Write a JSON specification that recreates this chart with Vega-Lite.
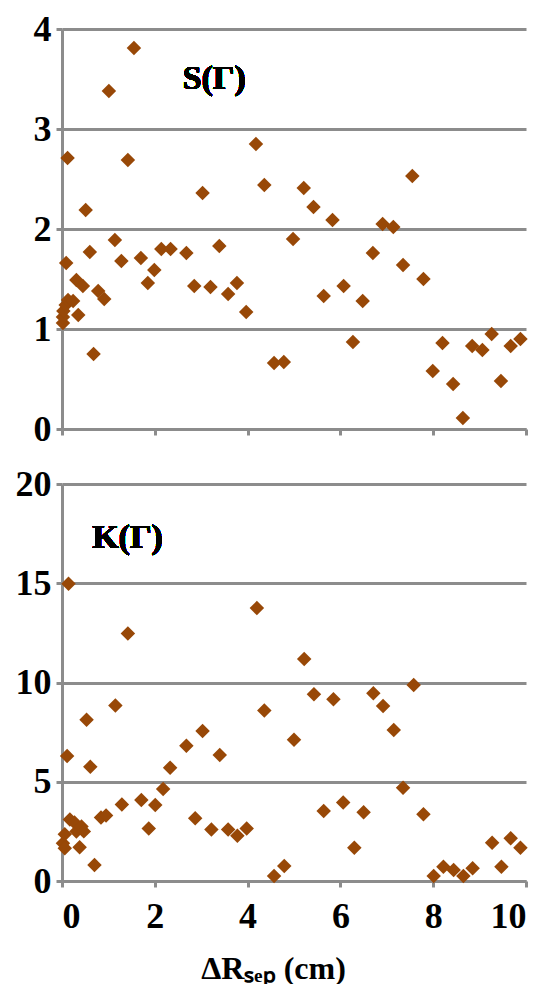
{
  "$schema": "https://vega.github.io/schema/vega-lite/v6.json",
  "padding": {"left": 15, "top": 11, "right": 5, "bottom": 0},
  "spacing": 19,
  "background": "white",
  "config": {
    "view": {"stroke": null},
    "axis": {
      "labelFont": "Liberation Serif",
      "labelFontWeight": "bold",
      "labelFontSize": 36,
      "labelColor": "black",
      "titleFont": "Liberation Serif",
      "titleFontWeight": "bold",
      "titleFontSize": 32,
      "titleColor": "black",
      "domainColor": "#8c8c8c",
      "domainWidth": 3,
      "tickColor": "#8c8c8c",
      "tickWidth": 3,
      "tickSize": 6,
      "gridColor": "#8c8c8c",
      "gridWidth": 3,
      "gridOpacity": 1,
      "labelPadding": 5,
      "format": "d"
    }
  },
  "vconcat": [
    {
      "width": 464,
      "height": 400,
      "data": {"values": [
        {"x":0.02,"S":1.06},{"x":0.02,"S":1.12},{"x":0.03,"S":1.18},{"x":0.08,"S":1.24},{"x":0.13,"S":1.29},{"x":0.24,"S":1.28},{"x":0.35,"S":1.14},{"x":0.09,"S":1.66},{"x":0.12,"S":2.71},{"x":0.31,"S":1.49},{"x":0.45,"S":1.43},{"x":0.51,"S":2.19},{"x":0.60,"S":1.77},{"x":0.68,"S":0.75},{"x":0.78,"S":1.38},{"x":0.91,"S":1.30},{"x":1.01,"S":3.38},{"x":1.14,"S":1.89},{"x":1.28,"S":1.68},{"x":1.42,"S":2.69},{"x":1.55,"S":3.81},{"x":1.70,"S":1.71},{"x":1.85,"S":1.46},{"x":1.99,"S":1.59},{"x":2.14,"S":1.80},{"x":2.34,"S":1.80},{"x":2.68,"S":1.76},{"x":2.85,"S":1.43},{"x":3.03,"S":2.36},{"x":3.20,"S":1.42},{"x":3.39,"S":1.83},{"x":3.58,"S":1.35},{"x":3.77,"S":1.46},{"x":3.97,"S":1.17},{"x":4.18,"S":2.85},{"x":4.36,"S":2.44},{"x":4.57,"S":0.66},{"x":4.78,"S":0.67},{"x":4.98,"S":1.90},{"x":5.21,"S":2.41},{"x":5.42,"S":2.22},{"x":5.64,"S":1.33},{"x":5.83,"S":2.09},{"x":6.07,"S":1.43},{"x":6.27,"S":0.87},{"x":6.48,"S":1.28},{"x":6.70,"S":1.76},{"x":6.91,"S":2.05},{"x":7.14,"S":2.02},{"x":7.35,"S":1.64},{"x":7.55,"S":2.53},{"x":7.79,"S":1.50},{"x":7.99,"S":0.58},{"x":8.20,"S":0.86},{"x":8.43,"S":0.45},{"x":8.64,"S":0.11},{"x":8.84,"S":0.83},{"x":9.06,"S":0.79},{"x":9.26,"S":0.95},{"x":9.46,"S":0.48},{"x":9.67,"S":0.83},{"x":9.88,"S":0.90}
      ]},
      "layer": [
        {
          "mark": {"type": "point", "shape": "diamond", "filled": true, "color": "#984807", "opacity": 1, "size": 210},
          "encoding": {
            "x": {"field": "x", "type": "quantitative", "scale": {"domain": [0, 10], "nice": false},
                  "axis": {"labels": false, "title": null, "grid": false, "values": [0,2,4,6,8,10]}},
            "y": {"field": "S", "type": "quantitative", "scale": {"domain": [0, 4], "nice": false},
                  "axis": {"title": null, "values": [0,1,2,3,4], "grid": true}}
          }
        },
        {
          "mark": {"type": "text", "font": "Liberation Serif", "fontWeight": "bold", "fontSize": 34, "align": "left", "baseline": "middle", "color": "black"},
          "encoding": {
            "x": {"datum": 2.6, "type": "quantitative"},
            "y": {"datum": 3.5, "type": "quantitative"},
            "text": {"value": "S(Γ)"}
          }
        }
      ]
    },
    {
      "width": 464,
      "height": 397,
      "data": {"values": [
        {"x":0.02,"K":1.9},{"x":0.06,"K":2.35},{"x":0.06,"K":1.65},{"x":0.17,"K":3.1},{"x":0.27,"K":2.95},{"x":0.31,"K":2.49},{"x":0.38,"K":1.7},{"x":0.42,"K":2.75},{"x":0.47,"K":2.5},{"x":0.11,"K":6.3},{"x":0.14,"K":14.98},{"x":0.53,"K":8.12},{"x":0.61,"K":5.75},{"x":0.70,"K":0.8},{"x":0.84,"K":3.2},{"x":0.95,"K":3.3},{"x":1.15,"K":8.84},{"x":1.29,"K":3.86},{"x":1.42,"K":12.47},{"x":1.71,"K":4.08},{"x":1.87,"K":2.65},{"x":2.01,"K":3.83},{"x":2.18,"K":4.64},{"x":2.33,"K":5.71},{"x":2.68,"K":6.81},{"x":2.87,"K":3.16},{"x":3.03,"K":7.56},{"x":3.22,"K":2.59},{"x":3.40,"K":6.35},{"x":3.58,"K":2.59},{"x":3.78,"K":2.28},{"x":3.98,"K":2.65},{"x":4.20,"K":13.75},{"x":4.36,"K":8.59},{"x":4.57,"K":0.25},{"x":4.79,"K":0.76},{"x":5.00,"K":7.11},{"x":5.22,"K":11.18},{"x":5.43,"K":9.41},{"x":5.64,"K":3.53},{"x":5.85,"K":9.16},{"x":6.06,"K":3.96},{"x":6.30,"K":1.68},{"x":6.50,"K":3.46},{"x":6.71,"K":9.46},{"x":6.92,"K":8.82},{"x":7.15,"K":7.61},{"x":7.35,"K":4.70},{"x":7.58,"K":9.88},{"x":7.79,"K":3.36},{"x":8.01,"K":0.25},{"x":8.22,"K":0.72},{"x":8.44,"K":0.55},{"x":8.65,"K":0.25},{"x":8.85,"K":0.64},{"x":9.27,"K":1.93},{"x":9.47,"K":0.72},{"x":9.67,"K":2.15},{"x":9.88,"K":1.68}
      ]},
      "layer": [
        {
          "mark": {"type": "point", "shape": "diamond", "filled": true, "color": "#984807", "opacity": 1, "size": 210},
          "encoding": {
            "x": {"field": "x", "type": "quantitative", "scale": {"domain": [0, 10], "nice": false},
                  "axis": {"title": "ΔRₛₑₚ (cm)", "grid": false, "values": [0,2,4,6,8,10], "labelPadding": 12, "titlePadding": 19, "titleX": 211}},
            "y": {"field": "K", "type": "quantitative", "scale": {"domain": [0, 20], "nice": false},
                  "axis": {"title": null, "values": [0,5,10,15,20], "grid": true}}
          }
        },
        {
          "mark": {"type": "text", "font": "Liberation Serif", "fontWeight": "bold", "fontSize": 34, "align": "left", "baseline": "middle", "color": "black"},
          "encoding": {
            "x": {"datum": 0.65, "type": "quantitative"},
            "y": {"datum": 17.3, "type": "quantitative"},
            "text": {"value": "K(Γ)"}
          }
        }
      ]
    }
  ]
}
